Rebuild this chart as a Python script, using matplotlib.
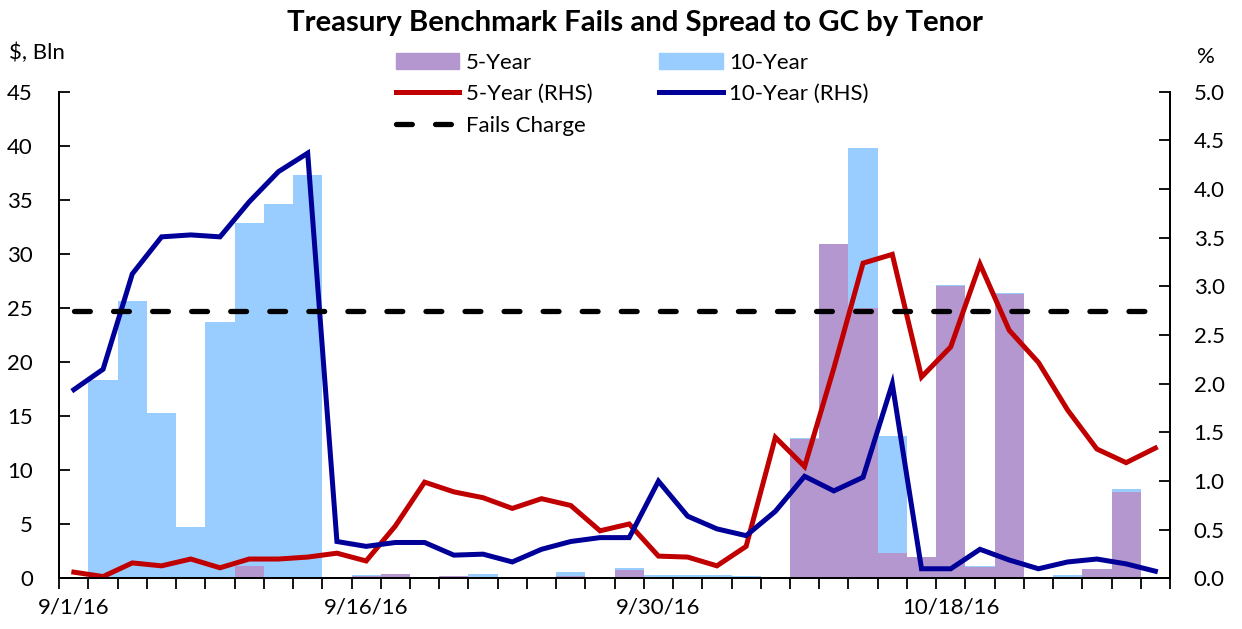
import numpy as np
import matplotlib.pyplot as plt
from matplotlib.patches import Patch
from matplotlib.lines import Line2D

plt.rcParams['font.family'] = ['Lato', 'DejaVu Sans']

# business days, 9/1/16 .. end of October (category axis)
date_labels = ['9/1/16', '9/16/16', '9/30/16', '10/18/16']
label_index = [0, 10, 20, 30]
n_days = 38

# fails, $ bln (stacked: 5-year at the bottom, 10-year on top)
fails_5y = [0, 0, 0, 0, 0, 0, 1.15, 0, 0, 0,
            0.25, 0.4, 0.05, 0.2, 0.1, 0, 0, 0.25, 0.1, 0.8,
            0.05, 0, 0, 0.1, 0, 12.9, 30.9, 25.0, 2.4, 2.0,
            27.0, 1.05, 26.3, 0.05, 0, 0.87, 8.0, 0.17]
fails_10y = [0.1, 18.35, 25.7, 15.3, 4.77, 23.7, 31.75, 34.6, 37.3, 0,
             0.05, 0, 0, 0, 0.35, 0, 0.1, 0.35, 0, 0.2,
             0.27, 0.35, 0.35, 0.15, 0, 0.1, 0, 14.8, 10.8, 0,
             0.15, 0.15, 0.1, 0, 0.3, 0, 0.23, 0]

# spread to GC, %
spread_5y = [0.065, 0.02, 0.16, 0.13, 0.20, 0.11, 0.20, 0.20, 0.22, 0.26,
             0.18, 0.54, 0.99, 0.89, 0.83, 0.72, 0.82, 0.75, 0.49, 0.56,
             0.23, 0.22, 0.13, 0.33, 1.45, 1.15, 2.16, 3.24, 3.33, 2.07,
             2.38, 3.23, 2.55, 2.22, 1.73, 1.33, 1.19, 1.34]
spread_10y = [1.94, 2.15, 3.13, 3.51, 3.53, 3.51, 3.87, 4.18, 4.37, 0.38,
              0.33, 0.37, 0.37, 0.24, 0.25, 0.17, 0.30, 0.38, 0.42, 0.42,
              1.00, 0.64, 0.51, 0.44, 0.69, 1.05, 0.90, 1.04, 2.00, 0.10,
              0.10, 0.30, 0.19, 0.10, 0.17, 0.20, 0.15, 0.075]
fails_charge = 2.75

purple = '#B497CE'
light_blue = '#99CCFF'
red = '#C00000'
navy = '#000099'
dash = (0, (3.0, 4.4))

fig = plt.figure(figsize=(12.42, 6.29), dpi=100)
ax = fig.add_axes([0.0477, 0.0803, 0.8943, 0.7737])
ax2 = ax.twinx()

x = np.arange(n_days)
ax.bar(x, fails_5y, width=1.0, color=purple, linewidth=0)
ax.bar(x, fails_10y, width=1.0, bottom=fails_5y, color=light_blue, linewidth=0)

ax2.plot(x, spread_5y, color=red, lw=3.6, solid_joinstyle='miter')
ax2.plot(x, spread_10y, color=navy, lw=3.6, solid_joinstyle='miter')
ax2.plot(x, [fails_charge] * n_days, color='black', lw=3.8,
         linestyle=dash, dash_capstyle='round')

ax.set_xlim(-0.5, n_days - 0.5)
ax.set_ylim(0, 45)
ax2.set_ylim(0, 5)
ax.set_yticks(np.arange(0, 46, 5))
ax2.set_yticks(np.arange(0, 5.01, 0.5))
ax2.set_yticklabels([f'{v:.1f}' for v in np.arange(0, 5.01, 0.5)])

ax.set_xticks(np.arange(-0.5, n_days, 1.0))
ax.set_xticklabels([])
ax.set_xticks(label_index, minor=True)
ax.set_xticklabels(date_labels, minor=True)
ax.tick_params(axis='x', which='major', direction='out', length=8, width=1.3)
ax.tick_params(axis='x', which='minor', length=0, pad=14, labelsize=16)
ax.tick_params(axis='y', direction='in', length=8, width=1.3, pad=19, labelsize=16)
ax2.tick_params(axis='y', direction='in', length=8, width=1.3, pad=17, labelsize=16)

for a in (ax, ax2):
    a.spines['top'].set_visible(False)
    for s in ('left', 'right', 'bottom'):
        a.spines[s].set_linewidth(1.3)

fig.text(0.511, 0.963, 'Treasury Benchmark Fails and Spread to GC by Tenor',
         ha='center', va='center', fontsize=21.2, fontweight='bold')
fig.text(0.007, 0.916, '$, Bln', ha='left', va='center', fontsize=16)
fig.text(0.971, 0.91, '%', ha='center', va='center', fontsize=16)

handles = [Patch(color=purple), Line2D([], [], color=red, lw=3.6),
           Line2D([], [], color='black', lw=3.8, linestyle=dash,
                  dash_capstyle='round'),
           Patch(color=light_blue), Line2D([], [], color=navy, lw=3.6)]
labels = ['5-Year', '5-Year (RHS)', 'Fails Charge', '10-Year', '10-Year (RHS)']
fig.legend(handles, labels, ncol=2, loc='upper left',
           bbox_to_anchor=(0.3136, 0.927), frameon=False, fontsize=16,
           handlelength=2.85, handleheight=0.75, handletextpad=0.3,
           columnspacing=3.0, labelspacing=0.52, borderaxespad=0,
           borderpad=0.3)

fig.savefig('out.png', dpi=100)
